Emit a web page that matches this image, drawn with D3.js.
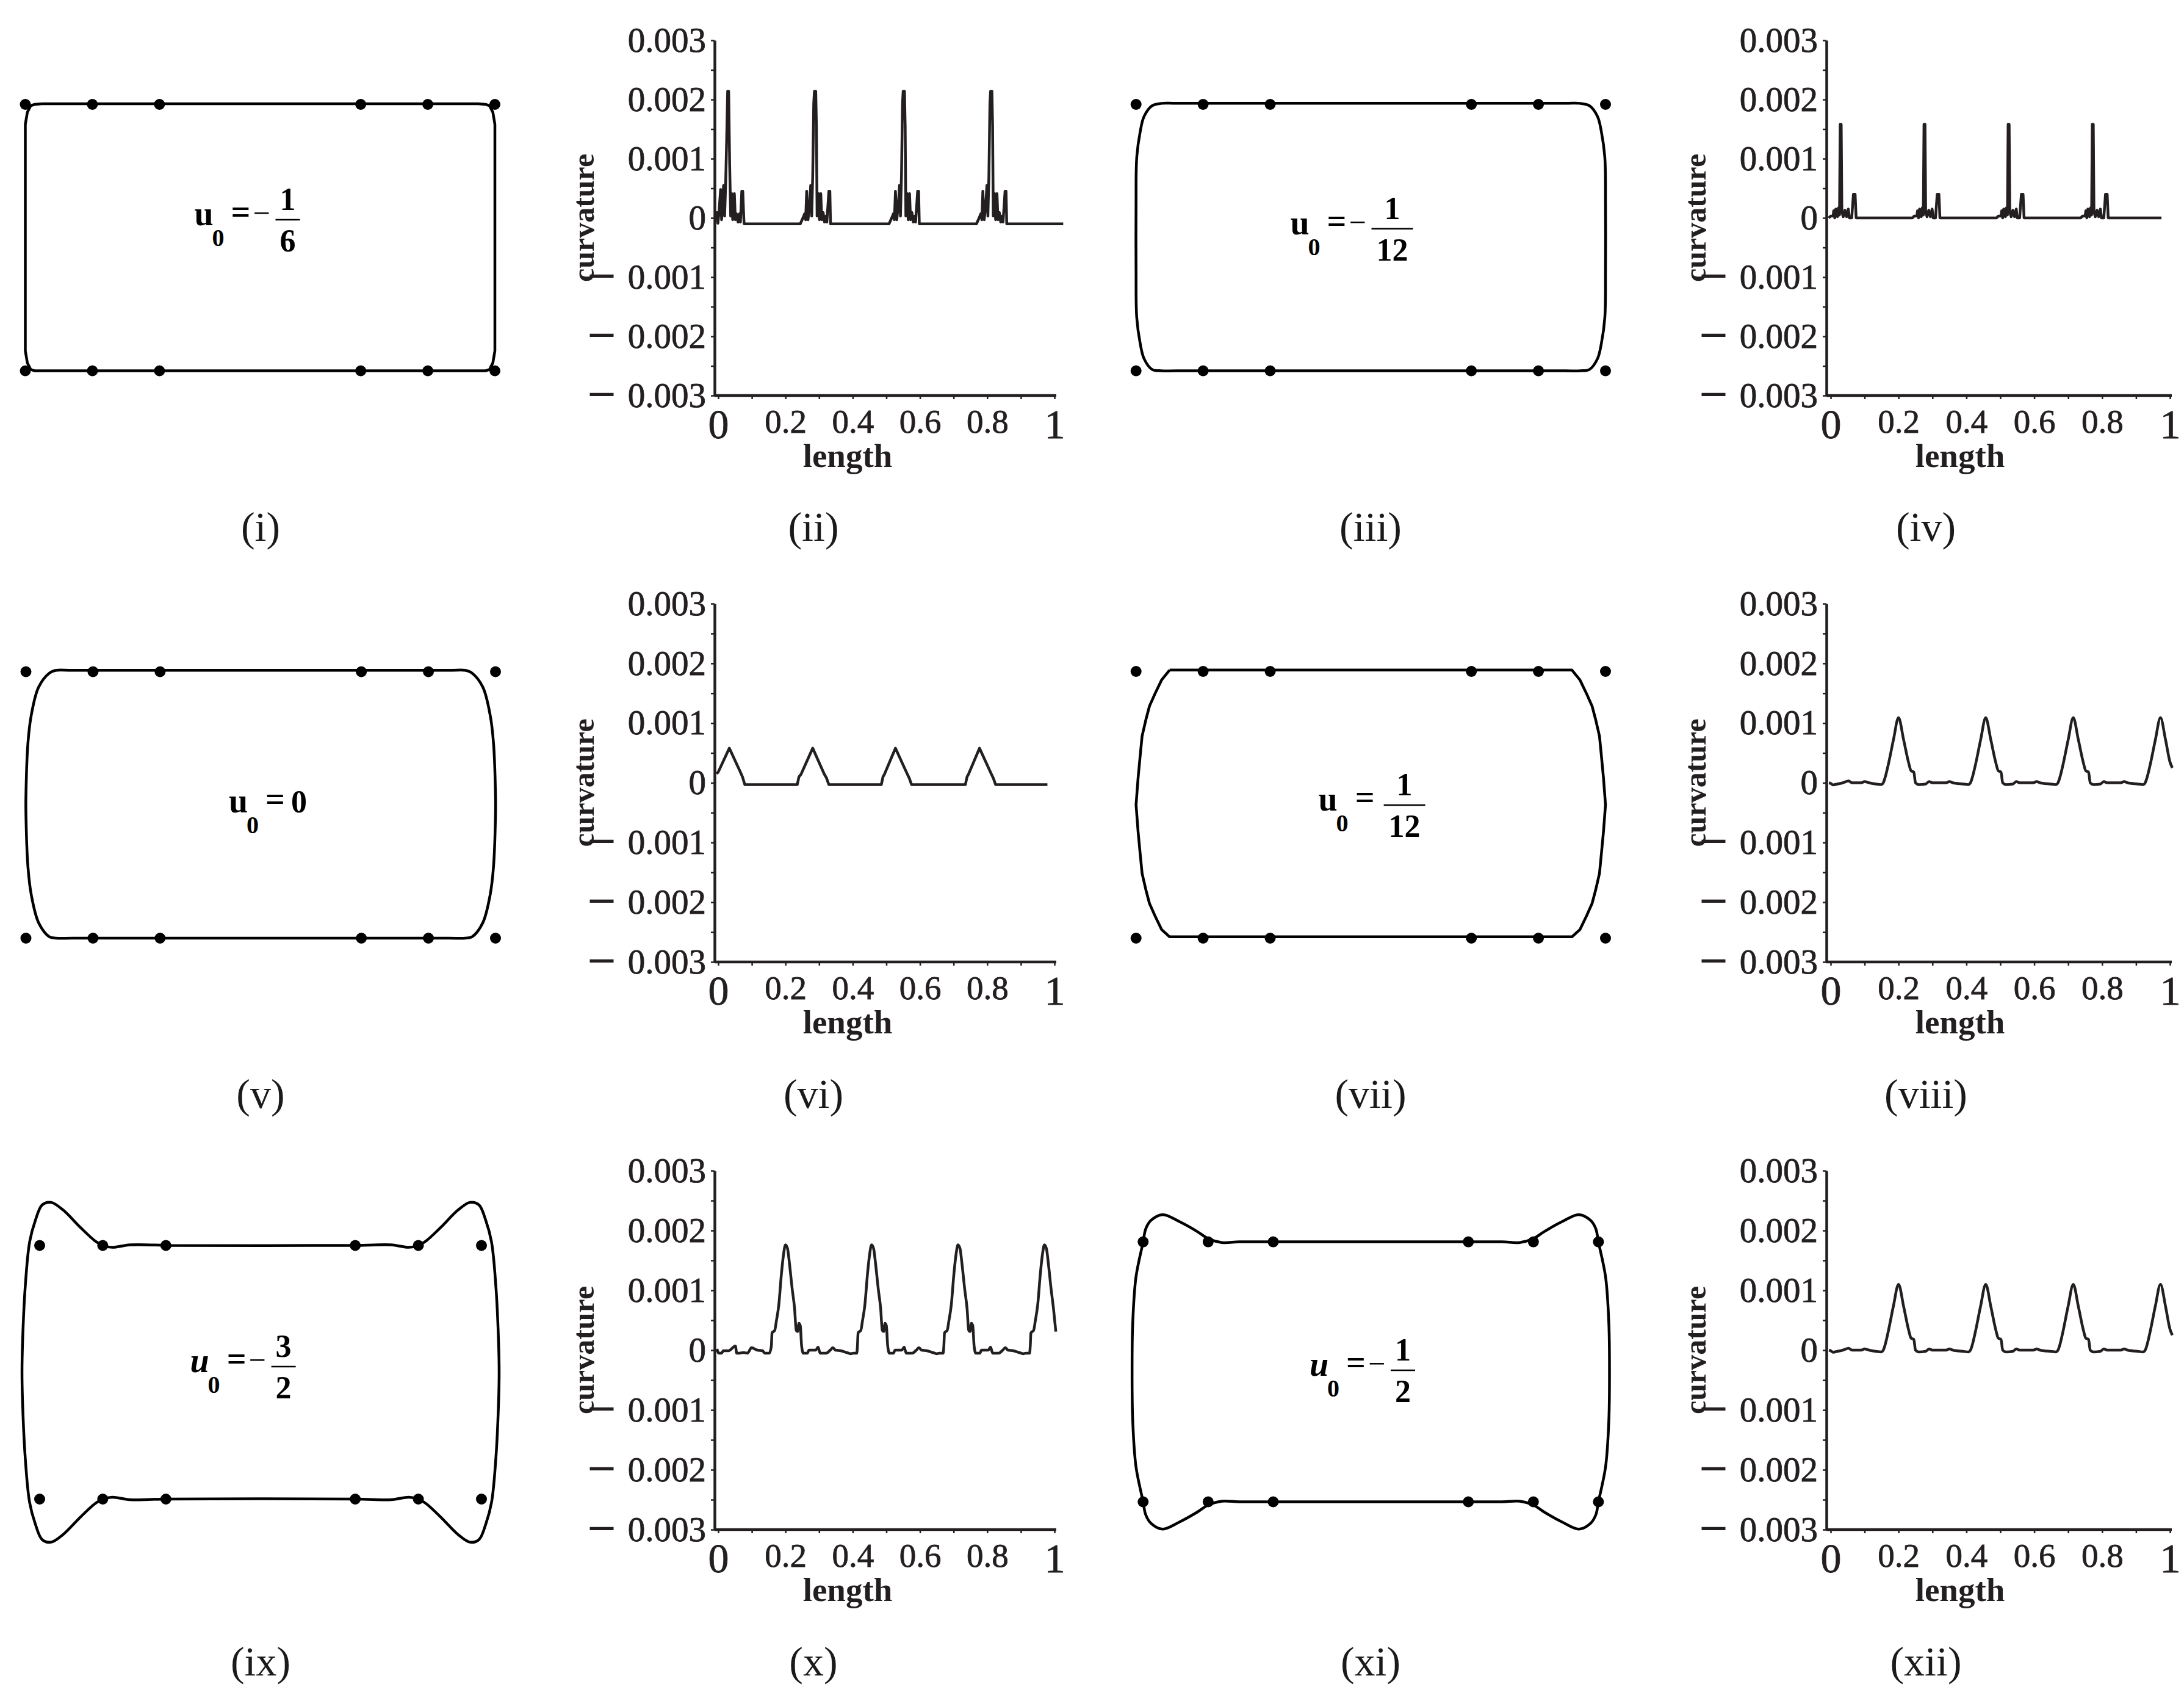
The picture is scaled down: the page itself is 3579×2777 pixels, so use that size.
<!DOCTYPE html>
<html>
<head>
<meta charset="utf-8">
<script src="https://cdn.jsdelivr.net/npm/d3@7"></script>
<style>
  body { margin: 0; background: #fff; }
  svg { display: block; }
  text { font-family: "Liberation Serif", "Times New Roman", serif; }
</style>
</head>
<body>
<svg id="fig" width="3579" height="2777"></svg>
<script>
// control points of every shape (grid units, v downwards)
const dotU = [0, 1, 2, 5, 6, 7];
const dotV = [0, 4];

// traced outlines, [u, v]
const outlineI = [[0.25,-0.01],[6.75,-0.01],[6.86,0.0],[6.92,0.02],[6.97,0.12],[7.0,0.3],[7.0,3.7],[6.97,3.88],[6.92,3.98],[6.86,4.0],[6.75,4.0],[0.25,4.0],[0.14,4.0],[0.08,3.98],[0.03,3.88],[0.0,3.7],[0.0,0.3],[0.03,0.12],[0.08,0.02],[0.14,0.0],[0.25,-0.01]];
const outlineIII = [[3.5,-0.015],[6.4,-0.015],[6.62,-0.015],[6.76,0.02],[6.88,0.18],[6.94,0.42],[6.99,0.8],[7.0,1.5],[7.0,2.5],[6.99,3.2],[6.94,3.58],[6.88,3.82],[6.76,3.98],[6.62,4.0],[6.4,4.0],[3.5,4.0],[0.6,4.0],[0.38,4.0],[0.24,3.98],[0.12,3.82],[0.06,3.58],[0.01,3.2],[0.0,2.5],[0.0,1.5],[0.01,0.8],[0.06,0.42],[0.12,0.18],[0.24,0.02],[0.38,-0.015],[0.6,-0.015],[3.5,-0.015]];
const outlineV = [[3.5,-0.02],[6.3,-0.02],[6.55,-0.02],[6.65,0.02],[6.81,0.23],[6.92,0.65],[6.97,1.07],[7.0,1.86],[7.0,2.14],[6.97,2.93],[6.92,3.35],[6.81,3.77],[6.65,3.98],[6.55,4.0],[6.3,4.0],[3.5,4.0],[0.7,4.0],[0.45,4.0],[0.35,3.98],[0.19,3.77],[0.08,3.35],[0.03,2.93],[0.0,2.14],[0.0,1.86],[0.03,1.07],[0.08,0.65],[0.19,0.23],[0.35,0.02],[0.45,-0.02],[0.7,-0.02],[3.5,-0.02]];
const outlineVII = [[0.5,-0.02],[6.5,-0.02],[6.62,0.13],[6.72,0.34],[6.8,0.52],[6.85,0.71],[6.91,0.97],[6.94,1.28],[6.97,1.6],[7.0,2.0],[6.97,2.4],[6.94,2.72],[6.91,3.03],[6.85,3.29],[6.8,3.48],[6.72,3.66],[6.62,3.87],[6.5,3.98],[0.5,3.98],[0.38,3.87],[0.28,3.66],[0.2,3.48],[0.15,3.29],[0.09,3.03],[0.06,2.72],[0.03,2.4],[0.0,2.0],[0.03,1.6],[0.06,1.28],[0.09,0.97],[0.15,0.71],[0.2,0.52],[0.28,0.34],[0.38,0.13],[0.5,-0.02]];
const outlineIX = [[2,0],[5,0],[5.57,-0.01],[5.85,0.03],[6.0,0.0],[6.12,-0.07],[6.35,-0.28],[6.63,-0.56],[6.82,-0.68],[6.96,-0.64],[7.07,-0.39],[7.16,-0.05],[7.23,0.67],[7.27,1.5],[7.28,2.0],[7.27,2.5],[7.23,3.33],[7.16,4.05],[7.07,4.39],[6.96,4.64],[6.82,4.68],[6.63,4.56],[6.35,4.28],[6.12,4.07],[6.0,4.0],[5.85,3.97],[5.57,4.01],[5,4],[2,4],[1.43,4.01],[1.15,3.97],[1.0,4.0],[0.88,4.07],[0.65,4.28],[0.37,4.56],[0.18,4.68],[0.04,4.64],[-0.07,4.39],[-0.16,4.05],[-0.23,3.33],[-0.27,2.5],[-0.28,2.0],[-0.27,1.5],[-0.23,0.67],[-0.16,-0.05],[-0.07,-0.39],[0.04,-0.64],[0.18,-0.68],[0.37,-0.56],[0.65,-0.28],[0.88,-0.07],[1.0,0.0],[1.15,0.03],[1.43,-0.01],[2,0]];
const outlineXI = [[2,0],[5,0],[5.52,0.0],[5.79,0.01],[6.0,-0.05],[6.17,-0.16],[6.44,-0.31],[6.7,-0.42],[6.88,-0.33],[6.96,-0.2],[7.0,0.0],[7.11,0.54],[7.16,1.25],[7.17,2.0],[7.16,2.75],[7.11,3.46],[7.0,4.0],[6.96,4.2],[6.88,4.33],[6.7,4.42],[6.44,4.31],[6.17,4.16],[6.0,4.05],[5.79,3.99],[5.52,4.0],[5,4],[2,4],[1.48,4.0],[1.21,3.99],[1.0,4.05],[0.83,4.16],[0.56,4.31],[0.3,4.42],[0.12,4.33],[0.04,4.2],[0.0,4.0],[-0.11,3.46],[-0.16,2.75],[-0.17,2.0],[-0.16,1.25],[-0.11,0.54],[0.0,0.0],[0.04,-0.2],[0.12,-0.33],[0.3,-0.42],[0.56,-0.31],[0.83,-0.16],[1.0,-0.05],[1.21,0.01],[1.48,0.0],[2,0]];

// label text of each shape: u0 = sign num/den
const u0Sign = ["−", "−", "", "", "−", "−"];
const u0Num = ["1", "1", "0", "1", "3", "1"];
const u0Den = ["6", "12", "", "12", "2", "2"];

// curvature against length, values in units of 0.001
const curvII = [[-0.01,0.0],[-0.007,0.0],[-0.004,0.09],[-0.001,-0.09],[0.002,0.07],[0.004,0.24],[0.007,0.48],[0.010,-0.03],[0.013,0.31],[0.016,0.55],[0.019,0.03],[0.022,0.55],[0.025,1.31],[0.028,2.14],[0.031,2.14],[0.034,0.9],[0.037,0.03],[0.040,0.41],[0.043,-0.03],[0.048,0.41],[0.051,-0.03],[0.054,0.07],[0.059,-0.07],[0.063,0.07],[0.066,-0.07],[0.070,0.45],[0.073,0.45],[0.076,0.0],[0.077,-0.10],
  [0.244,-0.10],[0.252,0.0],[0.257,0.07],[0.26,-0.03],[0.263,0.45],[0.267,-0.03],[0.272,0.24],[0.275,0.55],[0.278,0.03],[0.281,0.72],[0.284,1.93],[0.286,2.14],[0.29,2.14],[0.292,1.55],[0.294,0.03],[0.298,0.41],[0.301,-0.03],[0.305,0.41],[0.308,-0.03],[0.312,0.09],[0.316,-0.07],[0.32,0.03],[0.323,-0.07],[0.329,0.45],[0.332,0.45],[0.334,-0.10],
  [0.508,-0.10],[0.516,0.0],[0.521,0.07],[0.524,-0.03],[0.527,0.45],[0.531,-0.03],[0.536,0.24],[0.539,0.55],[0.542,0.03],[0.545,0.72],[0.548,1.93],[0.55,2.14],[0.554,2.14],[0.556,1.55],[0.558,0.03],[0.562,0.41],[0.565,-0.03],[0.569,0.41],[0.572,-0.03],[0.576,0.09],[0.58,-0.07],[0.584,0.03],[0.587,-0.07],[0.593,0.45],[0.596,0.45],[0.598,-0.10],
  [0.768,-0.10],[0.776,0.0],[0.781,0.07],[0.784,-0.03],[0.787,0.45],[0.791,-0.03],[0.796,0.24],[0.799,0.55],[0.802,0.03],[0.805,0.72],[0.808,1.93],[0.81,2.14],[0.814,2.14],[0.816,1.55],[0.818,0.03],[0.822,0.41],[0.825,-0.03],[0.829,0.41],[0.832,-0.03],[0.836,0.09],[0.84,-0.07],[0.844,0.03],[0.847,-0.07],[0.853,0.45],[0.856,0.45],[0.858,-0.10],[1.026,-0.10]];

const curvIV = [[-0.006,0.0],[0.0,0.03],[0.007,0.03],[0.009,0.12],[0.012,0.0],[0.015,0.15],[0.02,0.02],[0.023,0.17],[0.026,0.05],[0.028,1.58],[0.031,1.58],[0.033,0.10],[0.037,0.02],[0.042,0.13],[0.047,0.02],[0.052,0.15],[0.055,0.0],[0.062,0.0],[0.067,0.40],[0.072,0.40],[0.075,0.0],
  [0.241,0.0],[0.246,0.03],[0.254,0.03],[0.256,0.12],[0.259,0.0],[0.262,0.15],[0.267,0.02],[0.27,0.17],[0.273,0.05],[0.275,1.58],[0.278,1.58],[0.28,0.10],[0.284,0.02],[0.289,0.13],[0.294,0.02],[0.299,0.15],[0.302,0.0],[0.309,0.0],[0.314,0.40],[0.319,0.40],[0.322,0.0],
  [0.489,0.0],[0.494,0.03],[0.502,0.03],[0.504,0.12],[0.507,0.0],[0.51,0.15],[0.515,0.02],[0.518,0.17],[0.521,0.05],[0.523,1.58],[0.526,1.58],[0.528,0.10],[0.532,0.02],[0.537,0.13],[0.542,0.02],[0.547,0.15],[0.55,0.0],[0.557,0.0],[0.562,0.40],[0.567,0.40],[0.57,0.0],
  [0.737,0.0],[0.742,0.03],[0.75,0.03],[0.752,0.12],[0.755,0.0],[0.758,0.15],[0.763,0.02],[0.766,0.17],[0.769,0.05],[0.771,1.58],[0.774,1.58],[0.776,0.10],[0.78,0.02],[0.785,0.13],[0.79,0.02],[0.795,0.15],[0.798,0.0],[0.805,0.0],[0.81,0.40],[0.815,0.40],[0.818,0.0],[0.975,0.0]];

const curvVI = [[-0.005,0.15],[0.0,0.18],[0.033,0.58],[0.065,0.19],[0.072,0.1],[0.079,-0.03],[0.235,-0.03],[0.24,0.1],[0.246,0.14],[0.281,0.58],[0.315,0.15],[0.322,0.08],[0.329,-0.03],[0.485,-0.03],[0.49,0.1],[0.494,0.14],[0.527,0.58],[0.562,0.15],[0.568,0.08],[0.575,-0.03],[0.735,-0.03],[0.74,0.1],[0.744,0.14],[0.777,0.58],[0.812,0.15],[0.818,0.08],[0.825,-0.03],[0.979,-0.03]];

const curvVIII = [[-0.005,0.0],[0.0,-0.01],[0.007,-0.035],[0.02,-0.02],[0.036,0.0],[0.053,0.03],[0.063,0.0],[0.09,0.0],[0.1,0.02],[0.113,0.0],[0.133,-0.02],[0.149,-0.03],
  [0.155,0.0],[0.16,0.08],[0.17,0.31],[0.185,0.72],[0.2,1.09],[0.215,0.72],[0.23,0.33],[0.237,0.2],[0.245,0.18],[0.25,0.0],[0.26,-0.03],
  [0.28,-0.02],[0.29,0.02],[0.3,0.0],[0.34,0.0],[0.35,0.02],[0.36,0.0],[0.39,-0.02],[0.406,-0.03],
  [0.412,0.0],[0.417,0.08],[0.427,0.31],[0.442,0.72],[0.457,1.09],[0.472,0.72],[0.487,0.33],[0.494,0.2],[0.502,0.18],[0.507,0.0],[0.517,-0.03],
  [0.537,-0.02],[0.547,0.02],[0.557,0.0],[0.597,0.0],[0.607,0.02],[0.617,0.0],[0.647,-0.02],[0.664,-0.03],
  [0.67,0.0],[0.675,0.08],[0.685,0.31],[0.7,0.72],[0.715,1.09],[0.73,0.72],[0.745,0.33],[0.752,0.2],[0.76,0.18],[0.765,0.0],[0.775,-0.03],
  [0.795,-0.02],[0.805,0.02],[0.815,0.0],[0.855,0.0],[0.865,0.02],[0.875,0.0],[0.905,-0.02],[0.921,-0.03],
  [0.927,0.0],[0.932,0.08],[0.942,0.31],[0.957,0.72],[0.972,1.09],[0.987,0.72],[1.0,0.35],[1.007,0.25]];

const curvX = [[-0.004,0.02],[0.002,-0.05],[0.01,-0.05],[0.015,-0.01],[0.031,-0.01],[0.043,0.04],[0.051,0.07],[0.055,-0.05],[0.063,-0.05],[0.075,-0.04],[0.087,-0.05],[0.099,0.04],[0.116,0.0],[0.132,-0.01],[0.138,-0.05],[0.152,-0.05],[0.158,0.07],
  [0.16,0.29],[0.168,0.33],[0.173,0.49],[0.18,0.75],[0.188,1.28],[0.194,1.59],[0.2,1.76],[0.206,1.70],[0.212,1.44],[0.22,1.02],[0.227,0.70],[0.232,0.33],[0.236,0.31],[0.24,0.45],[0.244,0.41],[0.248,0.07],[0.253,-0.05],
  [0.265,-0.05],[0.27,0.0],[0.29,0.0],[0.297,0.05],[0.303,-0.05],[0.321,-0.05],[0.333,0.0],[0.341,0.04],[0.349,0.0],[0.365,-0.01],[0.382,-0.04],[0.394,-0.06],[0.402,-0.05],[0.412,-0.05],[0.414,0.07],
  [0.416,0.29],[0.424,0.33],[0.429,0.49],[0.436,0.75],[0.444,1.28],[0.45,1.59],[0.456,1.76],[0.462,1.70],[0.468,1.44],[0.476,1.02],[0.483,0.70],[0.488,0.33],[0.492,0.31],[0.496,0.45],[0.5,0.41],[0.504,0.07],[0.509,-0.05],
  [0.521,-0.05],[0.526,0.0],[0.546,0.0],[0.553,0.05],[0.559,-0.05],[0.577,-0.05],[0.589,0.0],[0.597,0.04],[0.605,0.0],[0.621,-0.01],[0.638,-0.04],[0.65,-0.06],[0.658,-0.05],[0.669,-0.05],[0.671,0.07],
  [0.673,0.29],[0.681,0.33],[0.686,0.49],[0.693,0.75],[0.701,1.28],[0.707,1.59],[0.713,1.76],[0.719,1.70],[0.725,1.44],[0.733,1.02],[0.74,0.70],[0.745,0.33],[0.749,0.31],[0.753,0.45],[0.757,0.41],[0.761,0.07],[0.766,-0.05],
  [0.778,-0.05],[0.783,0.0],[0.803,0.0],[0.81,0.05],[0.816,-0.05],[0.834,-0.05],[0.846,0.0],[0.854,0.04],[0.862,0.0],[0.878,-0.01],[0.895,-0.04],[0.907,-0.06],[0.915,-0.05],[0.926,-0.05],[0.928,0.07],
  [0.93,0.29],[0.938,0.33],[0.943,0.49],[0.95,0.75],[0.958,1.28],[0.964,1.59],[0.97,1.76],[0.976,1.70],[0.982,1.44],[0.99,1.02],[0.997,0.70],[1.004,0.31]];

const curvXII = [[-0.005,0.0],[0.0,-0.01],[0.007,-0.035],[0.02,-0.02],[0.036,0.0],[0.053,0.03],[0.063,0.0],[0.09,0.0],[0.1,0.02],[0.113,0.0],[0.133,-0.02],[0.149,-0.03],
  [0.155,0.0],[0.16,0.08],[0.17,0.32],[0.185,0.74],[0.2,1.1],[0.215,0.73],[0.23,0.33],[0.237,0.2],[0.245,0.18],[0.25,0.0],[0.26,-0.03],
  [0.28,-0.02],[0.29,0.02],[0.3,0.0],[0.34,0.0],[0.35,0.02],[0.36,0.0],[0.39,-0.02],[0.406,-0.03],
  [0.412,0.0],[0.417,0.08],[0.427,0.32],[0.442,0.74],[0.457,1.1],[0.472,0.73],[0.487,0.33],[0.494,0.2],[0.502,0.18],[0.507,0.0],[0.517,-0.03],
  [0.537,-0.02],[0.547,0.02],[0.557,0.0],[0.597,0.0],[0.607,0.02],[0.617,0.0],[0.647,-0.02],[0.664,-0.03],
  [0.67,0.0],[0.675,0.08],[0.685,0.32],[0.7,0.74],[0.715,1.1],[0.73,0.73],[0.745,0.33],[0.752,0.2],[0.76,0.18],[0.765,0.0],[0.775,-0.03],
  [0.795,-0.02],[0.805,0.02],[0.815,0.0],[0.855,0.0],[0.865,0.02],[0.875,0.0],[0.905,-0.02],[0.921,-0.03],
  [0.927,0.0],[0.932,0.08],[0.942,0.32],[0.957,0.74],[0.972,1.1],[0.987,0.73],[1.0,0.35],[1.007,0.25]];

// ticks
const yMajor = [3, 2, 1, 0, -1, -2, -3];
const yTickLabels = ["0.003", "0.002", "0.001", "0", "0.001", "0.002", "0.003"];
const yMinor = [2.5, 1.5, 0.5, -0.5, -1.5, -2.5];
const xMajor = [0, 0.2, 0.4, 0.6, 0.8, 1];
const xTickLabels = ["0", "0.2", "0.4", "0.6", "0.8", "1"];
const xMinor = [0.1, 0.3, 0.5, 0.7, 0.9];

const captions = ["(i)", "(ii)", "(iii)", "(iv)", "(v)", "(vi)", "(vii)", "(viii)", "(ix)", "(x)", "(xi)", "(xii)"];

// ---------------------------------------------------------------------------
const ink = "#231f20";
const svg = d3.select("#fig");
svg.append("rect").attr("width", 3579).attr("height", 2777).attr("fill", "#fff");

const rowsY = [[66, 648], [989, 1576], [1918, 2506]];
const chartCols = [{ axis: 1171, x0: 1177, x1: 1728 }, { axis: 2993, x0: 3000, x1: 3556 }];
const captionX = [427, 1333, 2246, 3156];
const captionY = [886, 1815, 2745];

const shapes = [
  { pts: outlineI,   xr: [41.5, 811],     yr: [171, 607.5],     curve: d3.curveLinear,     label: [318.5, 369] },
  { pts: outlineIII, xr: [1861.7, 2631],  yr: [171, 607.5],     curve: d3.curveCatmullRom, label: [2114.5, 383.7] },
  { pts: outlineV,   xr: [42.5, 812],     yr: [1100.5, 1537],   curve: d3.curveCatmullRom, label: [375, 1331] },
  { pts: outlineVII, xr: [1861.7, 2631],  yr: [1100, 1537],     curve: d3.curveLinear,     label: [2160.6, 1328] },
  { pts: outlineIX,  xr: [65, 789],       yr: [2040.5, 2456],   curve: d3.curveCatmullRom, label: [311.6, 2248], italic: true },
  { pts: outlineXI,  xr: [1873.3, 2619.4], yr: [2034.6, 2460.5], curve: d3.curveCatmullRom, label: [2146, 2254], italic: true }
];

const charts = [
  { data: curvII,   col: 0, row: 0, curve: d3.curveLinear },
  { data: curvIV,   col: 1, row: 0, curve: d3.curveLinear },
  { data: curvVI,   col: 0, row: 1, curve: d3.curveLinear },
  { data: curvVIII, col: 1, row: 1, curve: d3.curveMonotoneX },
  { data: curvX,    col: 0, row: 2, curve: d3.curveMonotoneX },
  { data: curvXII,  col: 1, row: 2, curve: d3.curveMonotoneX }
];

function drawLabel(p, i) {
  const [lx, ly] = p.label;
  const g = svg.append("g").attr("fill", "#000").attr("font-weight", "bold");
  g.append("text").attr("x", lx).attr("y", ly).attr("font-size", 56)
    .attr("font-style", p.italic ? "italic" : null).text("u");
  g.append("text").attr("x", lx + 29).attr("y", ly + 34).attr("font-size", 40).text("0");
  g.append("text").attr("x", lx + 76).attr("y", ly - 3).attr("text-anchor", "middle")
    .attr("font-size", 56).text("=");
  const neg = u0Sign[i] !== "";
  if (neg) {
    g.append("text").attr("x", lx + 110).attr("y", ly - 3).attr("text-anchor", "middle")
      .attr("font-size", 50).attr("font-weight", "normal").text(u0Sign[i]);
  }
  if (u0Den[i] === "") {
    g.append("text").attr("x", lx + 115).attr("y", ly).attr("text-anchor", "middle")
      .attr("font-size", 52).text(u0Num[i]);
    return;
  }
  const bx = lx + (neg ? 133 : 107);
  const w = u0Den[i].length > 1 ? 68 : 40;
  g.append("line").attr("x1", bx).attr("x2", bx + w).attr("y1", ly - 9).attr("y2", ly - 9)
    .attr("stroke", "#000").attr("stroke-width", 2.5);
  g.append("text").attr("x", bx + w / 2).attr("y", ly - 25).attr("text-anchor", "middle")
    .attr("font-size", 52).text(u0Num[i]);
  g.append("text").attr("x", bx + w / 2).attr("y", ly + 43).attr("text-anchor", "middle")
    .attr("font-size", 52).text(u0Den[i]);
}

function drawShape(p, i) {
  const x = d3.scaleLinear().domain([0, 7]).range(p.xr);
  const y = d3.scaleLinear().domain([0, 4]).range(p.yr);
  const line = d3.line().x(d => x(d[0])).y(d => y(d[1])).curve(p.curve);

  svg.append("path")
    .attr("d", line(p.pts))
    .attr("fill", "none")
    .attr("stroke", "#000")
    .attr("stroke-width", 4.5)
    .attr("stroke-linejoin", "round");

  const dots = dotV.flatMap(v => dotU.map(u => [u, v]));
  svg.append("g")
    .selectAll("circle")
    .data(dots)
    .join("circle")
    .attr("cx", d => x(d[0]))
    .attr("cy", d => y(d[1]))
    .attr("r", 9)
    .attr("fill", "#000");

  drawLabel(p, i);
}

function drawChart(c) {
  const col = chartCols[c.col];
  const [yt, yb] = rowsY[c.row];
  const x = d3.scaleLinear().domain([0, 1]).range([col.x0, col.x1]);
  const y = d3.scaleLinear().domain([-3, 3]).range([yb, yt]);
  const g = svg.append("g");

  // y axis
  const yAxis = d3.axisLeft(y)
    .tickValues(yMajor.concat(yMinor))
    .tickSize(6)
    .tickSizeOuter(0)
    .tickPadding(8)
    .tickFormat(v => {
      const k = yMajor.indexOf(v);
      return k < 0 ? "" : yTickLabels[k];
    });
  const ya = g.append("g")
    .attr("transform", `translate(${col.axis},0)`)
    .call(yAxis)
    .attr("font-family", null)
    .attr("font-size", 57);
  ya.select(".domain").attr("stroke", ink).attr("stroke-width", 4.5);
  ya.selectAll(".tick line").attr("stroke", ink).attr("stroke-width", 2.5);
  ya.selectAll(".tick text").attr("fill", ink).attr("stroke", ink).attr("stroke-width", 0.8);

  // minus signs of the negative ticks, set apart as in the original
  g.append("g")
    .selectAll("text")
    .data(yMajor.filter(v => v < 0))
    .join("text")
    .attr("x", col.axis - 185)
    .attr("y", d => y(d))
    .attr("dy", "0.21em")
    .attr("text-anchor", "middle")
    .attr("font-size", 76)
    .attr("font-weight", "bold")
    .attr("fill", ink)
    .text("–");

  // x axis
  const xAxis = d3.axisBottom(x)
    .tickValues(xMajor.concat(xMinor))
    .tickSize(6)
    .tickSizeOuter(0)
    .tickPadding(16)
    .tickFormat(v => {
      const k = xMajor.indexOf(v);
      return k < 0 ? "" : xTickLabels[k];
    });
  const xa = g.append("g")
    .attr("transform", `translate(0,${yb})`)
    .call(xAxis)
    .attr("font-family", null)
    .attr("font-size", 55);
  xa.select(".domain").remove();
  xa.selectAll(".tick line").attr("stroke", ink).attr("stroke-width", 2.5);
  xa.selectAll(".tick text").attr("fill", ink).attr("stroke", ink).attr("stroke-width", 0.8)
    .filter(d => d === 0 || d === 1).attr("font-size", 68);
  g.append("line")
    .attr("x1", col.axis).attr("x2", x(1) + 3)
    .attr("y1", yb).attr("y2", yb)
    .attr("stroke", ink).attr("stroke-width", 4.5);

  // titles
  g.append("text")
    .attr("transform", `translate(${col.axis - 198},${(yt + yb) / 2}) rotate(-90)`)
    .attr("text-anchor", "middle")
    .attr("font-size", 50)
    .attr("font-weight", "bold")
    .attr("fill", ink)
    .text("curvature");
  g.append("text")
    .attr("x", col.x0 + 212)
    .attr("y", yb + 117)
    .attr("text-anchor", "middle")
    .attr("font-size", 55)
    .attr("font-weight", "bold")
    .attr("fill", ink)
    .text("length");

  // the curve
  const line = d3.line().x(d => x(d[0])).y(d => y(d[1])).curve(c.curve);
  g.append("path")
    .attr("d", line(c.data))
    .attr("fill", "none")
    .attr("stroke", ink)
    .attr("stroke-width", 4.5)
    .attr("stroke-linejoin", "round");
}

shapes.forEach(drawShape);
charts.forEach(drawChart);

// panel captions
svg.append("g")
  .selectAll("text")
  .data(captions)
  .join("text")
  .attr("x", (d, i) => captionX[i % 4])
  .attr("y", (d, i) => captionY[Math.floor(i / 4)])
  .attr("text-anchor", "middle")
  .attr("font-size", 68)
  .attr("fill", "#1a1a1a")
  .text(d => d);
</script>
</body>
</html>
